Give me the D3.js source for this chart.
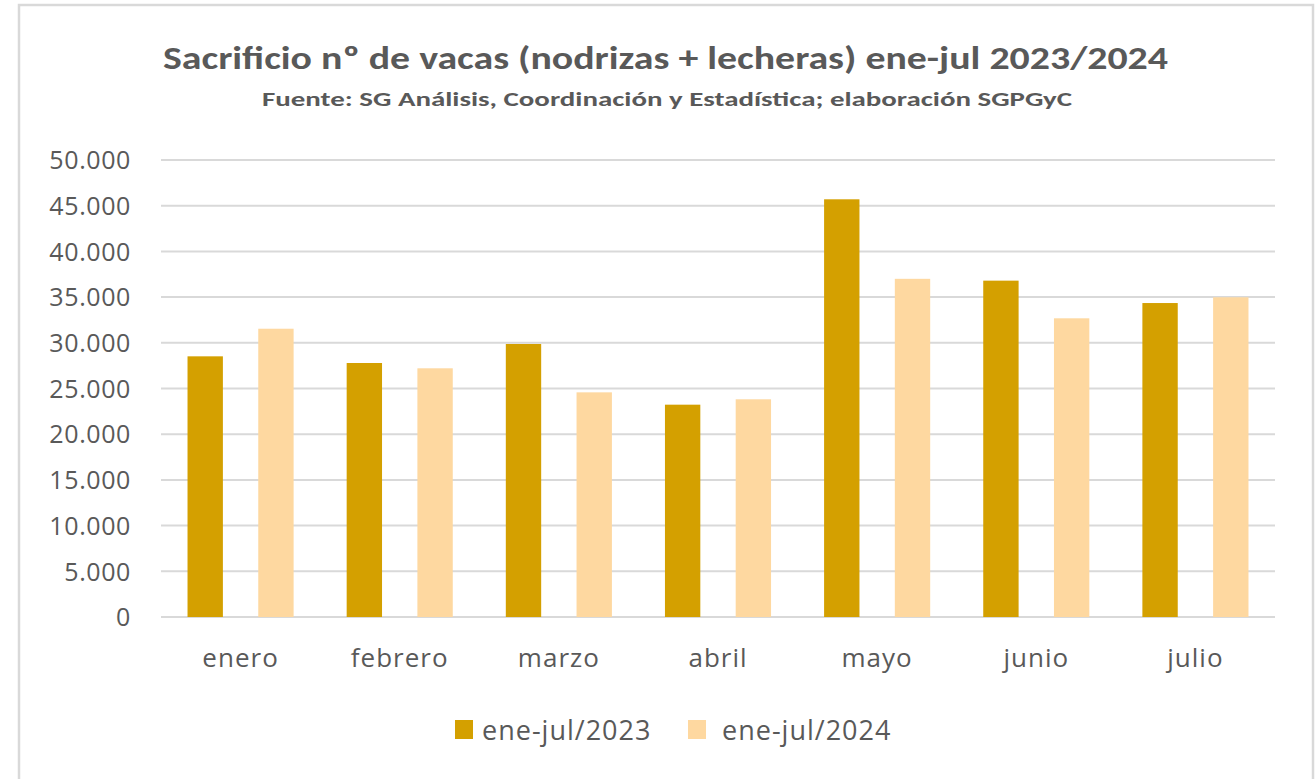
<!DOCTYPE html>
<html>
<head>
<meta charset="utf-8">
<script src="https://cdn.jsdelivr.net/npm/d3@7"></script>
<style>
html,body{margin:0;padding:0;background:#fff;}
svg{display:block;}
</style>
</head>
<body>
<svg id="chart" width="1316" height="779"></svg>
<script>
const categories = ["enero","febrero","marzo","abril","mayo","junio","julio"];
const seriesNames = ["ene-jul/2023","ene-jul/2024"];
const values2023 = [28520, 27790, 29870, 23230, 45700, 36800, 34350];
const values2024 = [31540, 27210, 24580, 23820, 37000, 32680, 34980];
const yTicks = [0,5000,10000,15000,20000,25000,30000,35000,40000,45000,50000];
const titleText = "Sacrificio nº de vacas (nodrizas + lecheras) ene-jul 2023/2024";
const subtitleText = "Fuente: SG Análisis, Coordinación y Estadística; elaboración SGPGyC";

const colors = ["#D4A000", "#FED8A0"];
const textColor = "#595959";
const gridColor = "#D9D9D9";
const bodyFont = "'Open Sans', 'Noto Sans', sans-serif";
const titleFont = "Carlito, 'Liberation Sans Narrow', 'Open Sans', sans-serif";

const svg = d3.select("#chart");

// outer chart border
svg.append("rect").attr("x", 19).attr("y", 5).attr("width", 1294).attr("height", 790)
  .attr("fill", "#fff").attr("stroke", gridColor).attr("stroke-width", 2.5);

const plot = {left: 161, right: 1275, top: 160, bottom: 617};

const x = d3.scaleBand().domain(categories).range([plot.left, plot.right]).paddingInner(0).paddingOuter(0);
// Excel-like: gap width 150%, overlap -100% -> 4.5 bar widths per category
const bw = x.bandwidth() / 4.5;
const xsub = d3.scaleOrdinal().domain(seriesNames).range([0.75 * bw, 2.75 * bw]);

const y = d3.scaleLinear().domain([0, 50000]).range([plot.bottom, plot.top]);

// gridlines
svg.append("g").selectAll("line").data(yTicks).join("line")
  .attr("x1", plot.left).attr("x2", plot.right)
  .attr("y1", d => y(d)).attr("y2", d => y(d))
  .attr("stroke", gridColor).attr("stroke-width", 2);

// y axis labels via d3 axis
const fmt = d => d === 0 ? "0" : d3.format(",")(d).replace(/,/g, ".");
const yAxis = d3.axisLeft(y).tickValues(yTicks).tickFormat(fmt).tickSize(0).tickPadding(0);
const yg = svg.append("g").attr("transform", `translate(131,0)`).call(yAxis);
yg.select(".domain").remove();
yg.selectAll("text").attr("fill", textColor).style("font-family", bodyFont).style("font-size", "25px")
  .style("letter-spacing", "0.6px")
  .attr("dy", "0.35em").attr("x", 0);

// bars
const data = categories.map((c, i) => ({cat: c, vals: [values2023[i], values2024[i]]}));
const groups = svg.append("g").selectAll("g").data(data).join("g")
  .attr("transform", d => `translate(${x(d.cat)},0)`);
groups.selectAll("rect").data(d => d.vals.map((v, j) => ({name: seriesNames[j], v, j}))).join("rect")
  .attr("x", d => xsub(d.name))
  .attr("width", bw)
  .attr("y", d => y(d.v))
  .attr("height", d => y(0) - y(d.v))
  .attr("fill", d => colors[d.j]);

// x axis labels
const xAxis = d3.axisBottom(x).tickSize(0).tickPadding(0);
const xg = svg.append("g").attr("transform", `translate(0,${plot.bottom})`).call(xAxis);
xg.select(".domain").remove();
xg.selectAll("text").attr("fill", textColor).style("font-family", bodyFont).style("font-size", "26px")
  .style("letter-spacing", "1px")
  .attr("dy", null).attr("y", 50);

// title
svg.append("text").attr("x", 665.5).attr("y", 69).attr("text-anchor", "middle")
  .attr("fill", textColor).style("font-family", titleFont).style("font-weight", "bold").style("font-size", "33px")
  .attr("textLength", 1005).attr("lengthAdjust", "spacingAndGlyphs")
  .text(titleText);
svg.append("text").attr("x", 667).attr("y", 106).attr("text-anchor", "middle")
  .attr("fill", textColor).style("font-family", titleFont).style("font-weight", "bold").style("font-size", "21px")
  .attr("textLength", 810).attr("lengthAdjust", "spacingAndGlyphs")
  .text(subtitleText);

// legend
const legendPos = [{sx: 455, tx: 482}, {sx: 688, tx: 722}];
const lg = svg.append("g").selectAll("g").data(seriesNames).join("g");
lg.append("rect").attr("x", (d, i) => legendPos[i].sx).attr("y", 720).attr("width", 18).attr("height", 19)
  .attr("fill", (d, i) => colors[i]);
lg.append("text").attr("x", (d, i) => legendPos[i].tx).attr("y", 740)
  .attr("fill", textColor).style("font-family", bodyFont).style("font-size", "27px")
  .style("letter-spacing", "1px")
  .text(d => d);
</script>
</body>
</html>
